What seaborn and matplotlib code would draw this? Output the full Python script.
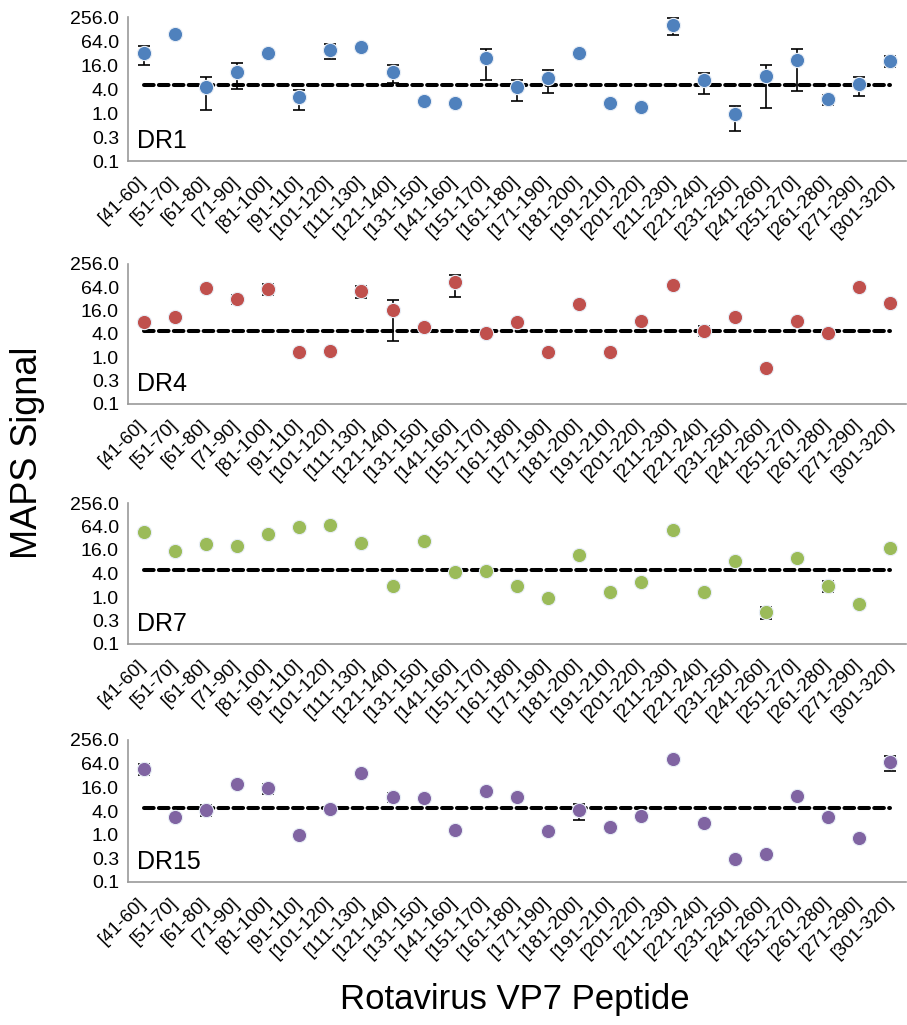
import numpy as np
import pandas as pd
import matplotlib
matplotlib.use("Agg")
import matplotlib.pyplot as plt
import seaborn as sns

sns.set_style("white")
plt.rcParams['font.family'] = ['Liberation Sans', 'DejaVu Sans']
plt.rcParams['text.color'] = 'black'
plt.rcParams['xtick.color'] = 'black'
plt.rcParams['ytick.color'] = 'black'

peptides = ["[41-60]", "[51-70]", "[61-80]", "[71-90]", "[81-100]", "[91-110]",
            "[101-120]", "[111-130]", "[121-140]", "[131-150]", "[141-160]",
            "[151-170]", "[161-180]", "[171-190]", "[181-200]", "[191-210]",
            "[201-220]", "[211-230]", "[221-240]", "[231-250]", "[241-260]",
            "[251-270]", "[261-280]", "[271-290]", "[301-320]"]

dr1_vals = [31.7, 95.6, 4.6, 10.9, 32.8, 2.5, 38.4, 44.7, 10.9, 2.0, 1.75, 23.7,
            4.4, 7.7, 31.7, 1.75, 1.43, 164.0, 6.6, 0.94, 8.7, 21.5, 2.2, 5.4, 20.3]
dr1_err = [16.0, 0.0, 3.4, 7.0, 1.0, 1.3, 16.0, 0.0, 5.3, 0.0, 0.2, 17.0,
           2.4, 4.5, 1.0, 0.2, 0.2, 75.0, 3.6, 0.58, 7.4, 18.0, 0.6, 2.8, 6.0]

dr4_vals = [8.2, 10.8, 60.0, 31.5, 59.6, 1.34, 1.45, 51.9, 16.7, 5.9, 87.0, 4.3,
            8.3, 1.34, 23.9, 1.34, 8.8, 75.6, 4.9, 10.8, 0.54, 8.8, 4.2, 65.6, 25.4]
dr4_err = [1.5, 1.0, 2.0, 8.0, 20.0, 0.1, 0.1, 18.0, 14.0, 0.3, 50.0, 0.2,
           1.0, 0.1, 0.5, 0.1, 0.5, 1.0, 1.4, 0.5, 0.03, 0.8, 0.3, 3.0, 1.0]

dr7_vals = [45.2, 15.3, 22.3, 20.5, 41.8, 60.8, 70.0, 23.7, 1.86, 27.6, 4.25, 4.6,
            1.97, 0.97, 11.8, 1.38, 2.45, 52.0, 1.38, 8.3, 0.41, 10.1, 1.97, 0.68, 17.6]
dr7_err = [3.0, 0.5, 1.0, 1.0, 4.0, 2.0, 2.0, 1.0, 0.1, 0.5, 0.2, 0.2,
           0.1, 0.05, 1.2, 0.15, 0.25, 2.0, 0.15, 0.8, 0.13, 1.5, 0.6, 0.05, 1.0]

dr15_vals = [47.6, 2.76, 4.3, 19.8, 15.4, 0.96, 4.6, 37.8, 9.1, 8.6, 1.29, 13.1,
             9.3, 1.22, 4.16, 1.6, 2.98, 82.0, 1.98, 0.236, 0.316, 9.85, 2.76, 0.84, 70.5]
dr15_err = [14.0, 0.1, 1.3, 4.0, 4.5, 0.05, 0.3, 1.0, 2.5, 0.5, 0.05, 1.5,
            1.8, 0.05, 1.8, 0.15, 0.2, 2.0, 0.15, 0.01, 0.02, 0.6, 0.25, 0.05, 30.0]

threshold = 4.9
ytick_vals = [0.0625, 0.25, 1.0, 4.0, 16.0, 64.0, 256.0]
ytick_labels = ["0.1", "0.3", "1.0", "4.0", "16.0", "64.0", "256.0"]

panels = [("DR1", dr1_vals, dr1_err, "#4F81BD"),
          ("DR4", dr4_vals, dr4_err, "#C0504D"),
          ("DR7", dr7_vals, dr7_err, "#9BBB59"),
          ("DR15", dr15_vals, dr15_err, "#8064A2")]

W, H = 907, 1025
fig = plt.figure(figsize=(W / 100, H / 100), dpi=100)

# (top px, bottom px) of each panel's plotting area
boxes = [(17, 161), (264, 404), (503, 644), (740, 882)]
left_px, right_px = 128, 906
axis_col = "#9a9a9a"

n = len(peptides)
for (name, vals, errs, col), (tp, bp) in zip(panels, boxes):
    ax = fig.add_axes([left_px / W, 1 - bp / H, (right_px - left_px) / W, (bp - tp) / H])
    df = pd.DataFrame({"idx": np.arange(n), "peptide": peptides, "val": vals, "err": errs})
    ax.plot([0, n - 1], [threshold, threshold], color="black", lw=2.9,
            ls=(0, (2.4, 1.3)), dash_capstyle="round", zorder=1)
    ax.errorbar(df["idx"], df["val"], yerr=df["err"], fmt="none", ecolor="black",
                elinewidth=1.2, capsize=4.5, capthick=1.2, zorder=2)
    sns.scatterplot(data=df, x="idx", y="val", ax=ax, color=col, s=105,
                    edgecolor="#e8eef6", linewidth=0.8, zorder=3, legend=False)
    ax.set_yscale("log", base=4)
    ax.set_ylim(0.0625, 256)
    ax.set_xlim(-0.5, n - 0.5)
    ax.set_yticks(ytick_vals)
    ax.set_yticklabels(ytick_labels, fontsize=14)
    ax.yaxis.set_minor_locator(matplotlib.ticker.NullLocator())
    ax.set_xticks(np.arange(n))
    ax.set_xticklabels(peptides, rotation=45, ha="right", va="center",
                       rotation_mode="anchor", fontsize=13.5)
    ax.set_xticks(np.arange(n + 1) - 0.5, minor=True)
    ax.tick_params(axis="x", which="major", length=0, pad=13)
    ax.tick_params(axis="x", which="minor", length=5, width=1, color=axis_col, direction="out")
    ax.tick_params(axis="y", which="major", length=5, width=1, color=axis_col, direction="out", pad=1.5)
    for s in ["top", "right"]:
        ax.spines[s].set_visible(False)
    for s in ["left", "bottom"]:
        ax.spines[s].set_color(axis_col)
        ax.spines[s].set_linewidth(1.2)
    ax.set_xlabel("")
    ax.set_ylabel("")
    ax.text(0.011, 0.093, name, transform=ax.transAxes, fontsize=18,
            ha="left", va="baseline", color="black")

fig.text(28 / W, 1 - 453 / H, "MAPS Signal", rotation=90, fontsize=26,
         ha="center", va="center", color="black")
fig.text(515 / W, 1 - 1000 / H, "Rotavirus VP7 Peptide", fontsize=25,
         ha="center", va="center", color="black")

fig.savefig("out.png", dpi=100)
